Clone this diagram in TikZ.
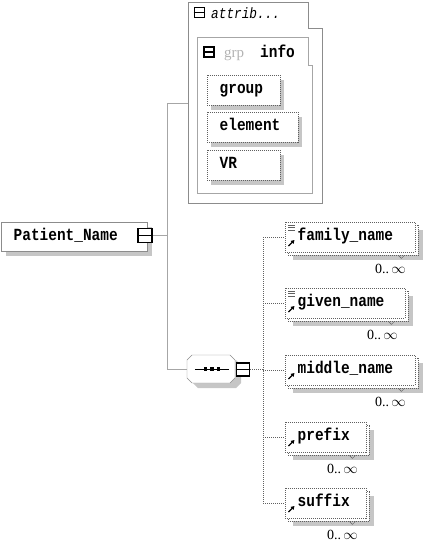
\documentclass[tikz,border=0pt]{standalone}
\usepackage{fontspec}
\usepackage{xcolor}
\usepackage{tikz}
\usetikzlibrary{calc,arrows.meta,backgrounds,positioning}
\newfontfamily\xsmono[FakeStretch=0.85]{Liberation Mono}
\newfontfamily\xsserif{Liberation Serif}
\colorlet{lineC}{gray!70}
\colorlet{frameC}{gray!90}
\colorlet{dotC}{gray!75!black}
\colorlet{shadC}{gray!45}

\tikzset{
  namebox/.style={anchor=north west, fill=white, inner xsep=12.5pt, inner ysep=0pt,
    align=left, text height=10pt, text depth=3pt,
    font=\xsmono\bfseries\fontsize{17}{20}\selectfont},
  solidbox/.style={namebox, draw=frameC},
  dotbox/.style={namebox, draw=dotC, dash pattern=on 1pt off 1pt},
  backbox/.style={draw=dotC, dash pattern=on 1pt off 1pt, fill=white},
  minusbox/.style={draw=black, line width=1.9pt, fill=white, inner sep=0pt},
  conn/.style={draw=lineC, line width=0.8pt},
  dotconn/.style={draw=dotC, dash pattern=on 1pt off 1pt},
  occ/.style={inner sep=0pt, font=\xsserif\fontsize{14}{16}\selectfont},
}

\begin{document}
\begin{tikzpicture}[x=1pt,y=-1pt]
          \useasboundingbox (0,0) rectangle (424,542);

          % Root element with its collapse box
          \node[solidbox, text width=121pt, minimum height=29pt] (pn) at (1,222) {Patient\_Name};
          \node[minusbox, minimum size=14pt] (pn-m) at (145,235.5) {};
          \draw[line width=1.3pt] (pn-m.west) -- (pn-m.east);

          % Attribute container (outer tab)
          \draw[frameC] (188,2) -- (308,2) -- (308,28) -- (322,28) -- (322,203) -- (188,203) -- cycle;
          \node[minusbox, minimum size=10pt, line width=1.7pt] (att-m) at (199.5,12.5) {};
          \draw[line width=1.2pt] (att-m.west) -- (att-m.east);
          \node[anchor=base west, inner sep=0pt, font=\xsmono\itshape\fontsize{15}{18}\selectfont] (att-t) at (211,18) {attrib...};

          % Attribute group "info" (inner tab)
          \draw[lineC] (197,37) -- (308,37) -- (308,65) -- (312,65) -- (312,193) -- (197,193) -- cycle;
          \node[minusbox, minimum size=10pt, line width=1.7pt] (info-m) at (209,52) {};
          \draw[line width=1.2pt] (info-m.west) -- (info-m.east);
          \node[anchor=base west, inner sep=0pt, text=gray!60, font=\xsserif\fontsize{15}{18}\selectfont] (info-g) at (224,57) {grp};
          \node[anchor=base west, inner sep=0pt, font=\xsmono\bfseries\fontsize{17}{20}\selectfont] (info-t) at (260,57) {info};

          % Attributes
          \foreach \nm/\ty/\tw/\txt in {a-group/75/48/group, a-elem/112/66/element, a-vr/150/48/VR}
            \node[dotbox, text width=\tw pt, minimum height=30pt] (\nm) at (207,\ty) {\txt};

          % Sequence compositor
          \node[minimum width=48pt, minimum height=28pt, inner sep=0pt] (seq) at (211,369) {};
          \draw[frameC, fill=white] (192,355) -- (230,355) -- (235,360) -- (235,378) -- (230,383)
            -- (192,383) -- (187,378) -- (187,360) -- cycle;
          \draw[line width=0.9pt] ($(seq.west)+(8,0)$) -- ($(seq.east)+(-6,0)$);
          \foreach \dx in {-5.5,1,7.5}
            \fill ($(seq.center)+(\dx,0)$) +(-1.9,-1.9) rectangle +(1.9,1.9);
          \node[minusbox, minimum size=13pt] (seq-m) at (243,369.5) {};
          \draw[line width=1.3pt] (seq-m.west) -- (seq-m.east);

          % Child elements with occurrence labels
          \foreach \nm/\ty/\tw/\lx/\ic/\txt in {fam/222/105/406/1/family\_name,
              giv/288/95/398/1/given\_name, mid/355/105/406/0/middle\_name,
              pre/422/56/358/0/prefix, suf/488/56/358/0/suffix}{
            \node[dotbox, text width=\tw pt, minimum height=30pt] (\nm) at (285,\ty) {\txt};
            \node[occ, anchor=east] (\nm-o) at (\lx,{\ty+47}) {0..\,$\infty$};
            \ifnum\ic=1
              \foreach \dy in {3,5.5,8}
                \draw[dotC, line width=0.6pt] ($(\nm.north west)+(3,\dy)$) -- ++(7,0);
            \fi
            \draw[line width=1.3pt, -{Triangle[length=3.5pt, width=4pt]}] ($(\nm.north west)+(3.5,24)$) -- ++(6,-6);
          }

          % Solid connectors
          \coordinate (att) at (188,103);
          \coordinate (tr) at ($(pn-m.east)+(14,0)$);
          \draw[conn] (pn-m.east) -- (tr);
          \draw[conn] (att) -| (tr) |- (seq.west);

          % Dotted connectors from the sequence
          \coordinate (sq) at ($(seq-m.east)+(13,0)$);
          \draw[dotconn] (seq-m.east) -- (sq);
          \draw[dotconn] (sq |- fam.west) -- (sq |- suf.west);
          \foreach \nm in {fam,giv,mid,pre,suf}
            \draw[dotconn] (sq |- \nm.west) -- (\nm.west);

          % Shadows and stacked copies
          \begin{scope}[on background layer]
            \fill[shadC] ([shift={(5,5)}]pn.north west) rectangle ([shift={(5,5)}]pn.south east);
            \foreach \nm in {a-group,a-elem,a-vr}
              \fill[shadC] ([shift={(4,5)}]\nm.north west) rectangle ([shift={(4,5)}]\nm.south east);
            \fill[shadC, shift={(6,5)}] (192,355) -- (230,355) -- (235,360) -- (235,378) -- (230,383)
              -- (192,383) -- (187,378) -- (187,360) -- cycle;
            \foreach \nm in {fam,giv,mid,pre,suf}{
              \fill[shadC] ([shift={(8,8)}]\nm.north west) rectangle ([shift={(8,8)}]\nm.south east);
              \draw[backbox] ([shift={(3,3)}]\nm.north west) rectangle ([shift={(3,3)}]\nm.south east);
              \draw[dotC] ([shift={(-17,3)}]\nm.south east) -- ++(3,3) -- ++(3,-3);
            }
          \end{scope}
        \end{tikzpicture}
\end{document}
